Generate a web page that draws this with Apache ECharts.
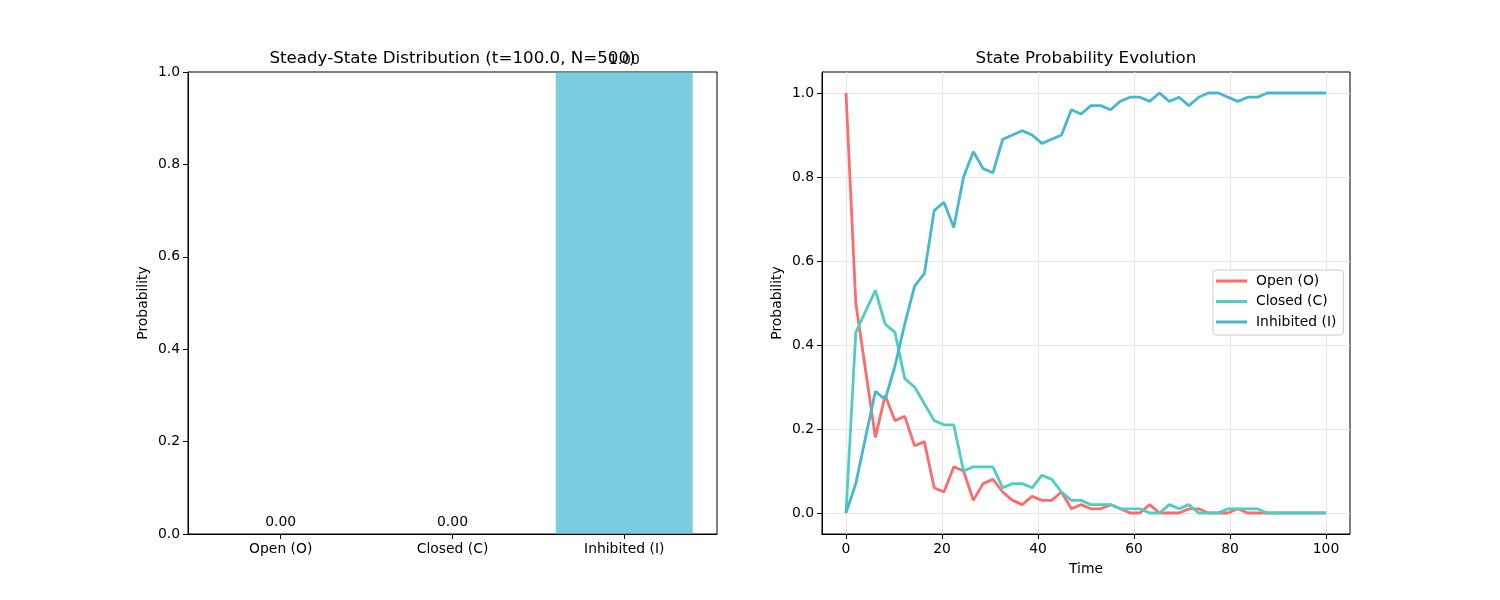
<!DOCTYPE html>
<html>
<head>
<meta charset="utf-8">
<title>Steady-State Distribution</title>
<script src="https://cdn.jsdelivr.net/npm/echarts@6/dist/echarts.min.js"></script>
<style>
    html, body { margin: 0; padding: 0; background: #fff; }
    #main { width: 1500px; height: 600px; }
</style>
</head>
<body>
<div id="main"></div>
<script>
// categories and steady-state values (left panel)
var categories = ['Open (O)', 'Closed (C)', 'Inhibited (I)'];
var steadyValues = [0.0, 0.0, 1.0];

// time evolution (right panel)
var timePoints = [0, 2.04, 4.08, 6.12, 8.16, 10.2, 12.24, 14.29, 16.33, 18.37,
    20.41, 22.45, 24.49, 26.53, 28.57, 30.61, 32.65, 34.69, 36.73, 38.78,
    40.82, 42.86, 44.9, 46.94, 48.98, 51.02, 53.06, 55.1, 57.14, 59.18,
    61.22, 63.27, 65.31, 67.35, 69.39, 71.43, 73.47, 75.51, 77.55, 79.59,
    81.63, 83.67, 85.71, 87.76, 89.8, 91.84, 93.88, 95.92, 97.96, 100];
var openProb = [1.00, 0.50, 0.34, 0.18, 0.28, 0.22, 0.23, 0.16, 0.17, 0.06,
    0.05, 0.11, 0.10, 0.03, 0.07, 0.08, 0.05, 0.03, 0.02, 0.04,
    0.03, 0.03, 0.05, 0.01, 0.02, 0.01, 0.01, 0.02, 0.01, 0.00,
    0.00, 0.02, 0.00, 0.00, 0.00, 0.01, 0.01, 0.00, 0.00, 0.00,
    0.01, 0.00, 0.00, 0.00, 0.00, 0.00, 0.00, 0.00, 0.00, 0.00];
var closedProb = [0.00, 0.43, 0.48, 0.53, 0.45, 0.43, 0.32, 0.30, 0.26, 0.22,
    0.21, 0.21, 0.10, 0.11, 0.11, 0.11, 0.06, 0.07, 0.07, 0.06,
    0.09, 0.08, 0.05, 0.03, 0.03, 0.02, 0.02, 0.02, 0.01, 0.01,
    0.01, 0.00, 0.00, 0.02, 0.01, 0.02, 0.00, 0.00, 0.00, 0.01,
    0.01, 0.01, 0.01, 0.00, 0.00, 0.00, 0.00, 0.00, 0.00, 0.00];
var inhibitedProb = [0.00, 0.07, 0.18, 0.29, 0.27, 0.35, 0.45, 0.54, 0.57, 0.72,
    0.74, 0.68, 0.80, 0.86, 0.82, 0.81, 0.89, 0.90, 0.91, 0.90,
    0.88, 0.89, 0.90, 0.96, 0.95, 0.97, 0.97, 0.96, 0.98, 0.99,
    0.99, 0.98, 1.00, 0.98, 0.99, 0.97, 0.99, 1.00, 1.00, 0.99,
    0.98, 0.99, 0.99, 1.00, 1.00, 1.00, 1.00, 1.00, 1.00, 1.00];

// tick labels
var barTicks = [0, 1, 2];
var probTicks = [0, 0.2, 0.4, 0.6, 0.8, 1.0];
var timeTicks = [0, 20, 40, 60, 80, 100];

var FONT = 'DejaVu Sans';
var colors = ['#FF6B6B', '#4ECDC4', '#45B7D1'];

function pairs(xs, ys) {
    var out = [];
    for (var i = 0; i < xs.length; i++) out.push([xs[i], ys[i]]);
    return out;
}

var myChart = echarts.init(document.getElementById('main'), null, { renderer: 'canvas' });

var tickText = { color: '#000', fontSize: 13.9, fontFamily: FONT };
var blackLine = { lineStyle: { color: '#000' } };

option = {
    backgroundColor: '#fff',
    animation: false,
    textStyle: { fontFamily: FONT },
    title: [
        {
            text: 'Steady-State Distribution (t=100.0, N=500)',
            left: 452.5, top: 50, padding: 0, textAlign: 'center',
            textStyle: { color: '#000', fontSize: 16.7, fontWeight: 'normal', fontFamily: FONT }
        },
        {
            text: 'State Probability Evolution',
            left: 1086, top: 50, padding: 0, textAlign: 'center',
            textStyle: { color: '#000', fontSize: 16.7, fontWeight: 'normal', fontFamily: FONT }
        }
    ],
    legend: {
        data: ['Open (O)', 'Closed (C)', 'Inhibited (I)'],
        orient: 'vertical',
        left: 1213, top: 270,
        padding: [4, 7, 6, 3],
        itemWidth: 31, itemHeight: 3, itemGap: 6.5,
        icon: 'rect',
        backgroundColor: '#fff',
        borderColor: '#cccccc', borderWidth: 1, borderRadius: 3,
        textStyle: { color: '#000', fontSize: 13.9, fontFamily: FONT, lineHeight: 14, padding: [0, 0, 0, 4] }
    },
    grid: [
        { left: 188, right: 783, top: 72, bottom: 66, show: true, borderColor: '#000', borderWidth: 1, backgroundColor: 'transparent' },
        { left: 822, right: 150, top: 72, bottom: 66, show: true, borderColor: '#000', borderWidth: 1, backgroundColor: 'transparent' }
    ],
    xAxis: [
        {
            gridIndex: 0, type: 'value', min: -0.54, max: 2.54,
            axisLine: { onZero: false, lineStyle: { color: '#000' } },
            axisTick: { show: true, length: 5, customValues: barTicks, lineStyle: { color: '#000' } },
            axisLabel: Object.assign({
                margin: 8, customValues: barTicks,
                formatter: function (v) { return categories[Math.round(v)]; }
            }, tickText),
            splitLine: { show: false }
        },
        {
            gridIndex: 1, type: 'value', min: -5, max: 105,
            name: 'Time', nameLocation: 'middle', nameGap: 28,
            nameTextStyle: tickText,
            axisLine: { onZero: false, lineStyle: { color: '#000' } },
            axisTick: { show: true, length: 5, customValues: timeTicks, lineStyle: { color: '#000' } },
            axisLabel: Object.assign({ margin: 8, customValues: timeTicks }, tickText),
            splitLine: { show: true, lineStyle: { color: '#e7e7e7', width: 1.1 } }
        }
    ],
    yAxis: [
        {
            gridIndex: 0, type: 'value', min: 0, max: 1, interval: 0.2,
            name: 'Probability', nameLocation: 'middle', nameGap: 38,
            nameTextStyle: tickText,
            axisLine: { show: true, onZero: false, lineStyle: { color: '#000' } },
            axisTick: { show: true, length: 5, lineStyle: { color: '#000' } },
            axisLabel: Object.assign({ margin: 8, formatter: function (v) { return v.toFixed(1); } }, tickText),
            splitLine: { show: false }
        },
        {
            gridIndex: 1, type: 'value', min: -0.05, max: 1.05,
            name: 'Probability', nameLocation: 'middle', nameGap: 38,
            nameTextStyle: tickText,
            axisLine: { show: true, onZero: false, lineStyle: { color: '#000' } },
            axisTick: { show: true, length: 5, customValues: probTicks, lineStyle: { color: '#000' } },
            axisLabel: Object.assign({ margin: 8, customValues: probTicks, formatter: function (v) { return v.toFixed(1); } }, tickText),
            splitLine: { show: true, lineStyle: { color: '#e7e7e7', width: 1.1 } }
        }
    ],
    series: [
        {
            name: 'Steady-State',
            type: 'bar', xAxisIndex: 0, yAxisIndex: 0,
            data: pairs(barTicks, steadyValues),
            barWidth: 137,
            itemStyle: { color: 'rgba(69,183,209,0.7)' },
            label: {
                show: true, position: 'top', distance: 5,
                color: '#000', fontSize: 13.9, fontFamily: FONT,
                formatter: function (p) { return p.value[1].toFixed(2); }
            }
        },
        {
            name: 'Open (O)', type: 'line', xAxisIndex: 1, yAxisIndex: 1,
            data: pairs(timePoints, openProb), showSymbol: false,
            lineStyle: { color: colors[0], width: 2.8 }, itemStyle: { color: colors[0] }
        },
        {
            name: 'Closed (C)', type: 'line', xAxisIndex: 1, yAxisIndex: 1,
            data: pairs(timePoints, closedProb), showSymbol: false,
            lineStyle: { color: colors[1], width: 2.8 }, itemStyle: { color: colors[1] }
        },
        {
            name: 'Inhibited (I)', type: 'line', xAxisIndex: 1, yAxisIndex: 1,
            data: pairs(timePoints, inhibitedProb), showSymbol: false,
            lineStyle: { color: colors[2], width: 2.8 }, itemStyle: { color: colors[2] }
        }
    ]
};

myChart.setOption(option);
</script>
</body>
</html>
